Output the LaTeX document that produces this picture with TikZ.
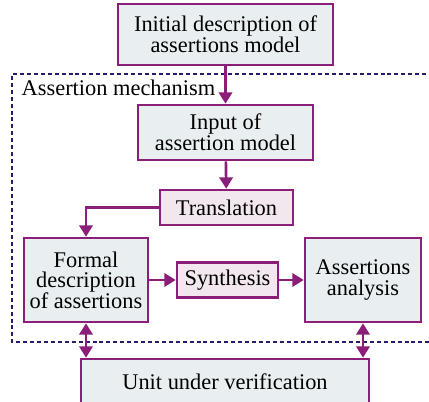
\documentclass[tikz,border=0pt]{standalone}
\usepackage{fontspec}
\setmainfont{Liberation Serif}
\usepackage{tikz}
\usetikzlibrary{arrows.meta, positioning, calc}

\definecolor{boxline}{HTML}{8A1E78}
\definecolor{boxfill}{HTML}{E9EFF1}
\definecolor{opfill}{HTML}{F3E7EF}
\definecolor{mechline}{HTML}{2A1A6E}
\newcommand{\pxu}{0.75pt}

\begin{document}
\begin{tikzpicture}[
    x=\pxu, y=-\pxu,
    every node/.style={font=\fontsize{16.8}{15.5}\selectfont, align=center}, % common font
    block/.style={draw=boxline, fill=boxfill, line width=2pt, inner sep=0pt}, % model boxes
    opbox/.style={draw=boxline, fill=opfill, line width=2pt, inner sep=0pt}, % operation boxes
    boxsize/.style 2 args={minimum width=#1*\pxu, minimum height=#2*\pxu}, % size in pixels
    flow/.style={draw=boxline, line width=2pt, -{Triangle[length=8.5pt, width=10pt]}}, % one-way arrow
    link/.style={draw=boxline, line width=2pt, {Triangle[length=8.5pt, width=10pt]}-{Triangle[length=8.5pt, width=10pt]}}, % two-way arrow
    mech/.style={draw=mechline, line width=2pt, dash pattern=on 3pt off 2.2pt} % mechanism frame
]
    \useasboundingbox (0, 0) rectangle (429, 401);
    \clip (0, 0) rectangle (429, 401);

    % 1. mechanism frame (runs out past the right edge)
    \draw[mech] (440, 74) -- (12, 74) -- (12, 342) -- (440, 342);
    \node[anchor=west] (mechlabel) at (17, 88) {Assertion mechanism};

    % 2. boxes
    \node[block, boxsize={215}{61}] (initial) at (225.5, 34.5) {Initial description of\\assertions model};
    \node[block, boxsize={175}{55}] (input) at (225.5, 132.5) {Input of\\assertion model};
    \node[opbox, boxsize={133}{35}] (transl) at (226.5, 207.5) {Translation};
    \node[block, boxsize={124}{84}] (formal) at (86, 280) {Formal\\description\\of assertions};
    \node[opbox, boxsize={101}{35}] (synth) at (227.5, 280) {Synthesis};
    \node[block, boxsize={116}{84}] (analysis) at (363, 280) {Assertions\\analysis};
    \node[block, boxsize={288}{45}] (unit) at (225, 381.5) {Unit under verification};

    % 3. arrows
    \draw[flow] (initial) -- (input);
    \draw[flow] (input) -- (transl);
    \draw[flow] (transl.west) -| (formal.north);
    \draw[flow] (formal) -- (synth);
    \draw[flow] (synth) -- (analysis);
    \draw[link] (formal.south) -- (formal.south |- unit.north);
    \draw[link] (analysis.south) -- (analysis.south |- unit.north);

\end{tikzpicture}
\end{document}
